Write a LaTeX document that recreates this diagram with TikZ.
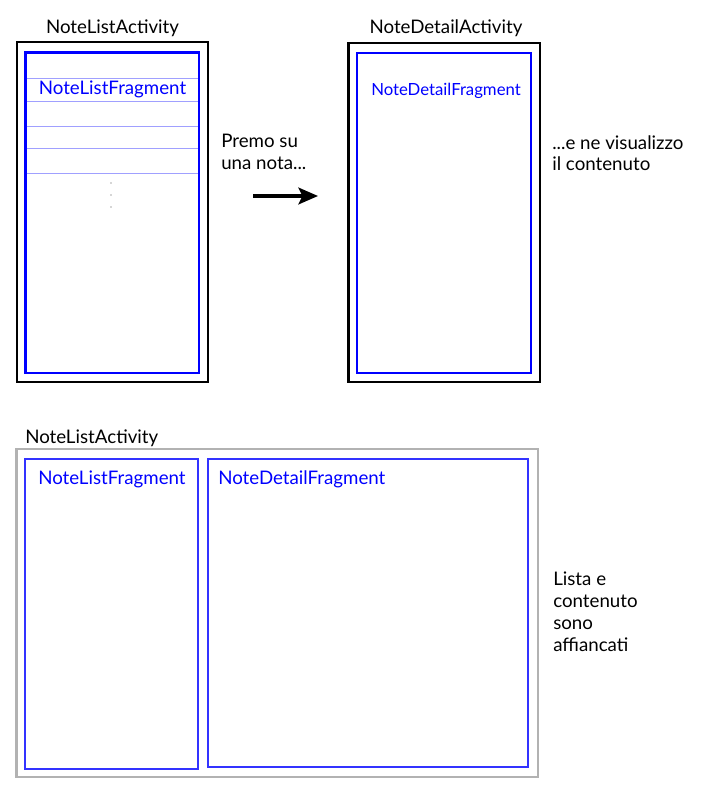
\documentclass[tikz,border=0pt]{standalone}
\usepackage{fontspec}
\setmainfont{Lato}
\usetikzlibrary{fit,arrows.meta}

\definecolor{fragblue}{RGB}{0,0,255}
\definecolor{fragblue2}{RGB}{51,51,255}
\definecolor{rowline}{RGB}{160,160,255}
\definecolor{tabgray}{RGB}{178,178,178}

\tikzset{
  actbox/.style={draw=black, line width=1.5pt, inner sep=0pt},
  fragbox/.style={draw=fragblue, line width=1.5pt, inner sep=0pt},
  tabfrag/.style={draw=fragblue2, line width=1.5pt, inner sep=0pt},
  tabbox/.style={draw=tabgray, line width=1.5pt, inner sep=0pt},
  txt/.style={inner sep=0pt, font=\fontsize{13.3}{15.5}\selectfont},
  fragtxt/.style={txt, text=fragblue},
  note/.style={txt, align=left, anchor=north west},
}

\begin{document}
\begin{tikzpicture}[x=0.025cm, y=-0.025cm]
    \useasboundingbox (0,0) rectangle (701,787);

    % telefono: lista note
    \node[actbox, fit={(17,42) (208,382)}] (nla) {};
    \node[fragbox, fit={(25.5,52.5) (199,373)}] (nlf) {};
    \node[txt, anchor=base] (nlaT) at (112.5,34) {NoteListActivity};
    \foreach \y in {78,101,126,148,173}
        \draw[rowline, line width=0.6pt] (26.5,\y) -- (198,\y);
    \node[fragtxt, anchor=base] (nlfT) at (112.5,95) {NoteListFragment};
    \foreach \y in {183,195,207}
        \fill[black!70] (111,\y) circle (0.6);

    % freccia
    \node[note] (premo) at (221,134) {Premo su\\una nota...};
    \coordinate (arrS) at (253,196);
    \coordinate (arrE) at (318,196);
    \draw[line width=2.2pt, -{Stealth[length=14pt, width=12pt, inset=3pt]}] (arrS) -- (arrE);

    % telefono: dettaglio nota
    \node[actbox, fit={(348.5,43) (540,382)}] (nda) {};
    \node[fragbox, fit={(357,53) (531,373)}] (ndf) {};
    \node[txt, anchor=base] (ndaT) at (446,34) {NoteDetailActivity};
    \node[fragtxt, anchor=base, font=\fontsize{11.9}{14}\selectfont] (ndfT) at (446,96) {NoteDetailFragment};
    \node[note] (visual) at (552,135) {...e ne visualizzo\\il contenuto};

    % tablet: lista e dettaglio affiancati
    \node[tabbox, fit={(16.5,449) (538,777)}] (tab) {};
    \node[txt, anchor=base west] (tabT) at (25,443) {NoteListActivity};
    \node[tabfrag, fit={(25,459) (198,769)}] (tlf) {};
    \node[tabfrag, fit={(208,459) (528,767)}] (tdf) {};
    \node[fragtxt, anchor=base west] (tlfT) at (38,484) {NoteListFragment};
    \node[fragtxt, anchor=base west] (tdfT) at (218,484) {NoteDetailFragment};
    \node[note] (affianc) at (553,572) {Lista e\\contenuto\\sono\\affiancati};
\end{tikzpicture}
\end{document}
